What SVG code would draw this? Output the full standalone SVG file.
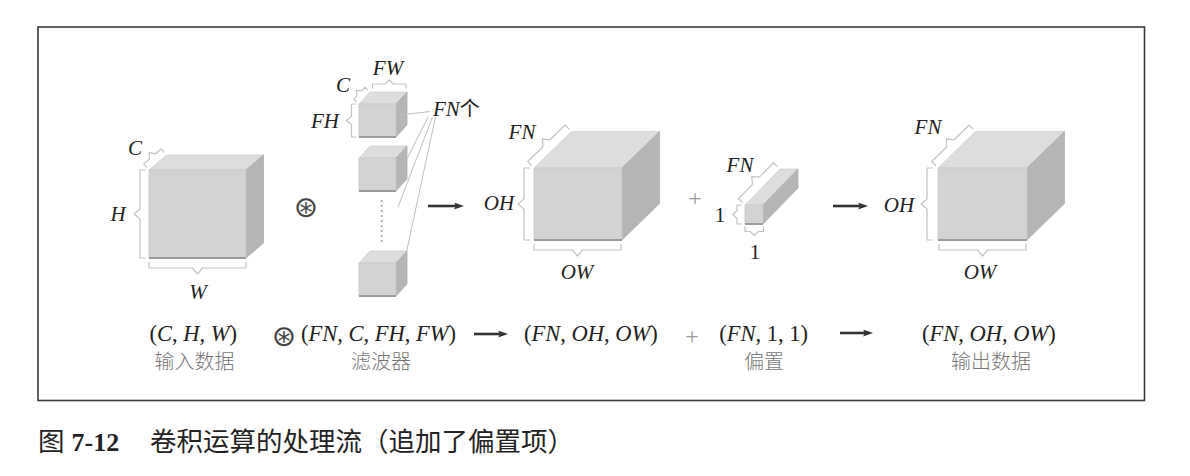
<svg xmlns="http://www.w3.org/2000/svg" width="1190" height="476" viewBox="0 0 1190 476">
<style>
.top{fill:#dcdddf;stroke:#cfd0d2;stroke-width:0.8}
.front{fill:#d2d3d5;stroke:#c6c7c9;stroke-width:0.8}
.side{fill:#b4b5b7;stroke:#aeafb1;stroke-width:0.8}
.base{stroke:#9a9b9d;stroke-width:2}
.br{fill:none;stroke:#c4c4c4;stroke-width:1.2;stroke-linejoin:round}
.lbl{font-family:"Liberation Serif","Times New Roman",serif;font-size:21px;font-style:italic;fill:#222;text-anchor:middle}
.num{font-family:"Liberation Serif","Times New Roman",serif;font-size:21px;fill:#222;text-anchor:middle}
.f{font-family:"Liberation Serif","Times New Roman",serif;font-size:22.5px;fill:#222}
.i{font-style:italic}
.cn{font-family:"Noto Sans CJK SC","Noto Sans",sans-serif;font-size:20px;fill:#777;text-anchor:middle;font-weight:300}
.op{font-family:"DejaVu Sans",sans-serif;font-size:29px;fill:#444;text-anchor:middle}
.plus{font-family:"Liberation Serif",serif;font-size:24px;fill:#999;text-anchor:middle}
.arr{stroke:#333;stroke-width:2.6;fill:none}
.fnl{stroke:#c0c0c0;stroke-width:1;fill:none}
.cap{font-family:"Noto Sans CJK SC",sans-serif;font-size:26.5px;font-weight:400;fill:#222}
</style>
<defs>
<marker id="ah" markerWidth="10" markerHeight="7" refX="4" refY="3.5" orient="auto" markerUnits="userSpaceOnUse">
<path d="M0,0 L10,3.5 L0,7 L2,3.5 z" fill="#333"/>
</marker>
</defs>
<rect x="38" y="27" width="1106.5" height="373.5" fill="#fff" stroke="#3a3a3a" stroke-width="1.6"/>

<g id="input">
<polygon class="top" points="149,170 166.5,155 263.5,155 246,170"/>
<polygon class="side" points="246,170 263.5,155 263.5,243 246,258"/>
<rect class="front" x="149" y="170" width="97" height="88"/>
<line class="base" x1="149" y1="258" x2="246" y2="258"/>
<path class="br" transform="translate(146,258) rotate(-90)" d="M0,0 L0,-6 L39,-6 L44,-12 L49,-6 L88,-6 L88,0"/>
<path class="br" transform="translate(246,262) rotate(180)" d="M0,0 L0,-6 L43.5,-6 L48.5,-12 L53.5,-6 L97,-6 L97,0"/>
<path class="br" transform="translate(147,167.7) rotate(-40.6)" d="M0,0 L0,-5 L7.5,-5 L11.5,-10 L15.5,-5 L23,-5 L23,0"/>
<text class="lbl" x="135" y="155">C</text>
<text class="lbl" x="118" y="221">H</text>
<text class="lbl" x="198" y="299">W</text>
</g>

<g id="conv-op">
<text class="op" x="306" y="216.5">⊛</text>
</g>

<g id="filters">
<polygon class="top" points="359,104 370,92 407,92 396,104"/>
<polygon class="side" points="396,104 407,92 407,125 396,137"/>
<rect class="front" x="359" y="104" width="37" height="33"/>
<line class="base" x1="359" y1="137" x2="396" y2="137"/>
<polygon class="top" points="359,158 370,146 407,146 396,158"/>
<polygon class="side" points="396,158 407,146 407,179 396,191"/>
<rect class="front" x="359" y="158" width="37" height="33"/>
<line class="base" x1="359" y1="191" x2="396" y2="191"/>
<line x1="381.7" y1="200" x2="381.7" y2="244" stroke="#b0b0b0" stroke-width="2" stroke-dasharray="2,3"/>
<polygon class="top" points="359,263 370,251 407,251 396,263"/>
<polygon class="side" points="396,263 407,251 407,284 396,296"/>
<rect class="front" x="359" y="263" width="37" height="33"/>
<line class="base" x1="359" y1="296" x2="396" y2="296"/>
<path class="br" transform="translate(356.5,137) rotate(-90)" d="M0,0 L0,-5 L12.5,-5 L16.5,-10 L20.5,-5 L33,-5 L33,0"/>
<path class="br" transform="translate(372.5,88.5)" d="M0,0 L0,-4.5 L12.75,-4.5 L16.75,-8.5 L20.75,-4.5 L33.5,-4.5 L33.5,0"/>
<path class="br" transform="translate(356.8,102) rotate(-47.5)" d="M0,0 L0,-4 L4.65,-4 L8.15,-8 L11.65,-4 L16.3,-4 L16.3,0"/>
<text class="lbl" x="343" y="92">C</text>
<text class="lbl" x="388" y="75">FW</text>
<text class="lbl" x="325" y="128">FH</text>
<text class="lbl" x="433" y="116" style="text-anchor:start">FN<tspan style="font-style:normal;font-family:'Noto Sans CJK SC',sans-serif;font-size:20px">个</tspan></text>
</g>

<g id="conv-output">
<polygon class="top" points="534,168 571.5,131.5 659.5,131.5 622,168"/>
<polygon class="side" points="622,168 659.5,131.5 659.5,203.5 622,240"/>
<rect class="front" x="534" y="168" width="88" height="72"/>
<line class="base" x1="534" y1="240" x2="622" y2="240"/>
<path class="br" transform="translate(530,240) rotate(-90)" d="M0,0 L0,-6 L31,-6 L36,-12 L41,-6 L72,-6 L72,0"/>
<path class="br" transform="translate(621,244) rotate(180)" d="M0,0 L0,-6 L38.5,-6 L43.5,-12 L48.5,-6 L87,-6 L87,0"/>
<path class="br" transform="translate(531.9,165.8) rotate(-44.2)" d="M0,0 L0,-6 L21.15,-6 L26.15,-12 L31.15,-6 L52.3,-6 L52.3,0"/>
<text class="lbl" x="522" y="139">FN</text>
<text class="lbl" x="499" y="210">OH</text>
<text class="lbl" x="577" y="279">OW</text>
</g>

<g id="plus-op">
<text class="plus" x="695" y="206">+</text>
</g>

<g id="bias">
<polygon class="top" points="745,205 780,169 798,169 763,205"/>
<polygon class="side" points="763,205 798,169 798,188 763,224"/>
<rect class="front" x="745" y="205" width="18" height="19"/>
<line class="base" x1="745" y1="224" x2="763" y2="224"/>
<path class="br" transform="translate(742,224) rotate(-90)" d="M0,0 L0,-5 L5.5,-5 L9.5,-9 L13.5,-5 L19,-5 L19,0"/>
<path class="br" transform="translate(763.5,226.5) rotate(180)" d="M0,0 L0,-5 L5.25,-5 L9.25,-9 L13.25,-5 L18.5,-5 L18.5,0"/>
<path class="br" transform="translate(742.8,202.9) rotate(-45.8)" d="M0,0 L0,-6 L20.1,-6 L25.1,-12 L30.1,-6 L50.2,-6 L50.2,0"/>
<text class="lbl" x="740" y="172">FN</text>
<text class="num" x="720" y="222">1</text>
<text class="num" x="755" y="259">1</text>
</g>

<g id="output">
<polygon class="top" points="938,168 975.5,131.5 1064.5,131.5 1027,168"/>
<polygon class="side" points="1027,168 1064.5,131.5 1064.5,203.5 1027,240"/>
<rect class="front" x="938" y="168" width="89" height="72"/>
<line class="base" x1="938" y1="240" x2="1027" y2="240"/>
<path class="br" transform="translate(933,240) rotate(-90)" d="M0,0 L0,-6 L31,-6 L36,-12 L41,-6 L72,-6 L72,0"/>
<path class="br" transform="translate(1026,244) rotate(180)" d="M0,0 L0,-6 L38.5,-6 L43.5,-12 L48.5,-6 L87,-6 L87,0"/>
<path class="br" transform="translate(935.9,165.8) rotate(-44.2)" d="M0,0 L0,-6 L21.15,-6 L26.15,-12 L31.15,-6 L52.3,-6 L52.3,0"/>
<text class="lbl" x="928" y="134">FN</text>
<text class="lbl" x="899" y="212">OH</text>
<text class="lbl" x="980" y="279">OW</text>
</g>

<g id="connectors">
<line class="fnl" x1="400" y1="115" x2="430" y2="111.5"/>
<line class="fnl" x1="405" y1="163" x2="428" y2="117"/>
<line class="fnl" x1="398" y1="207" x2="432.5" y2="117"/>
<line class="fnl" x1="406.5" y1="252" x2="435.5" y2="117"/>
<line class="arr" x1="428" y1="206" x2="458" y2="206" marker-end="url(#ah)"/>
<line class="arr" x1="833" y1="206" x2="862" y2="206" marker-end="url(#ah)"/>
<line class="arr" x1="474" y1="334" x2="502" y2="334" marker-end="url(#ah)"/>
<line class="arr" x1="840" y1="333" x2="867" y2="333" marker-end="url(#ah)"/>
</g>

<g id="formula">
<text class="f" x="149.5" y="340.5">(<tspan class="i">C</tspan>, <tspan class="i">H</tspan>, <tspan class="i">W</tspan>)</text>
<text class="cn" x="194.5" y="368.5">输入数据</text>
<text class="op" x="284" y="345.5">⊛</text>
<text class="f" x="301" y="340.5">(<tspan class="i">FN</tspan>, <tspan class="i">C</tspan>, <tspan class="i">FH</tspan>, <tspan class="i">FW</tspan>)</text>
<text class="cn" x="381" y="368.5">滤波器</text>
<text class="f" x="524" y="340.5">(<tspan class="i">FN</tspan>, <tspan class="i">OH</tspan>, <tspan class="i">OW</tspan>)</text>
<text class="plus" x="692" y="343.5">+</text>
<text class="f" x="719.3" y="340.5">(<tspan class="i">FN</tspan>, 1, 1)</text>
<text class="cn" x="764" y="368.5">偏置</text>
<text class="f" x="922" y="340.5">(<tspan class="i">FN</tspan>, <tspan class="i">OH</tspan>, <tspan class="i">OW</tspan>)</text>
<text class="cn" x="991" y="368.5">输出数据</text>
</g>

<g id="caption">
<text class="cap" x="38" y="451">图</text>
<text x="71.5" y="451" font-family="Liberation Serif, serif" font-size="26" font-weight="bold" fill="#222">7-12</text>
<text class="cap" x="150" y="451">卷积运算的处理流（追加了偏置项）</text>
</g>
</svg>
